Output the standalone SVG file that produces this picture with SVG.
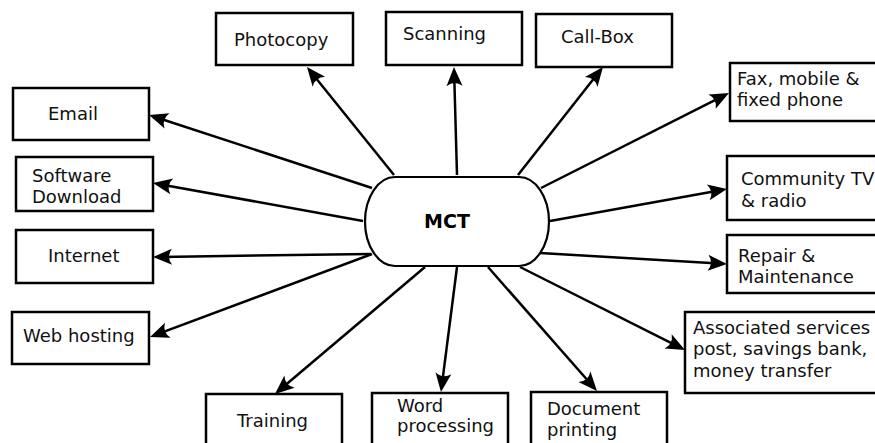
<svg xmlns="http://www.w3.org/2000/svg" width="875" height="443" viewBox="0 0 875 443">
<style>
.box{fill:#fff;stroke:#000;stroke-width:2.5}
.t{font-family:"DejaVu Sans",sans-serif;font-size:18px;fill:#111}
.tb{font-family:"DejaVu Sans",sans-serif;font-size:19px;font-weight:bold;fill:#000}
.c{fill:none;stroke:#000;stroke-width:2.5;marker-end:url(#ah)}
</style>
<defs>
<marker id="ah" markerUnits="userSpaceOnUse" viewBox="-12 -9 22 18" refX="0" refY="0" markerWidth="22" markerHeight="18" orient="auto" overflow="visible">
<path d="M8,0 L-11,-8 Q-5,0 -11,8 Z" fill="#000"/>
</marker>
</defs>
<rect width="875" height="443" fill="#fff"/>
<g id="connectors">
<line class="c" x1="372" y1="188" x2="156.6" y2="117.5"/>
<line class="c" x1="363" y1="221" x2="160.9" y2="184.4"/>
<line class="c" x1="371" y1="254" x2="161" y2="256.9"/>
<line class="c" x1="372" y1="254" x2="157.5" y2="334.2"/>
<line class="c" x1="425" y1="267" x2="281.1" y2="388.8"/>
<line class="c" x1="457" y1="267" x2="442" y2="384.1"/>
<line class="c" x1="488" y1="267" x2="591.7" y2="385"/>
<line class="c" x1="520" y1="267" x2="677.9" y2="346.4"/>
<line class="c" x1="540" y1="253" x2="719" y2="263.5"/>
<line class="c" x1="550" y1="221" x2="719.1" y2="190.4"/>
<line class="c" x1="541" y1="188" x2="721.9" y2="96.6"/>
<line class="c" x1="518" y1="175" x2="598" y2="73.3"/>
<line class="c" x1="457" y1="175" x2="454.2" y2="75"/>
<line class="c" x1="394" y1="175" x2="312" y2="73.2"/>
</g>
<g id="mct">
<rect x="365" y="177" width="184" height="89" rx="30" ry="44.5" fill="#fff" stroke="#000" stroke-width="2.2"/>
<text class="tb" x="447" y="227.5" text-anchor="middle">MCT</text>
</g>
<g id="photocopy"><rect class="box" x="216" y="13" width="137" height="52"/><text class="t" x="234" y="46">Photocopy</text></g>
<g id="scanning"><rect class="box" x="386" y="12" width="136" height="53"/><text class="t" x="403" y="40">Scanning</text></g>
<g id="callbox"><rect class="box" x="536" y="14" width="136" height="53"/><text class="t" x="561" y="43">Call-Box</text></g>
<g id="fax"><rect class="box" x="730" y="63" width="150" height="58"/><text class="t" x="737" y="85">Fax, mobile &amp;</text><text class="t" x="737" y="106">fixed phone</text></g>
<g id="email"><rect class="box" x="13" y="88" width="136" height="52"/><text class="t" x="48" y="120">Email</text></g>
<g id="software"><rect class="box" x="16" y="157" width="137" height="54"/><text class="t" x="32" y="182">Software</text><text class="t" x="32" y="203">Download</text></g>
<g id="internet"><rect class="box" x="16" y="230" width="137" height="53"/><text class="t" x="48" y="262">Internet</text></g>
<g id="webhosting"><rect class="box" x="12" y="312" width="137" height="52"/><text class="t" x="23" y="342">Web hosting</text></g>
<g id="training"><rect class="box" x="206" y="394" width="136" height="60"/><text class="t" x="237" y="427">Training</text></g>
<g id="wordprocessing"><rect class="box" x="372" y="393" width="136" height="60"/><text class="t" x="397" y="412">Word</text><text class="t" x="397" y="432">processing</text></g>
<g id="documentprinting"><rect class="box" x="531" y="392" width="136" height="60"/><text class="t" x="547" y="415">Document</text><text class="t" x="547" y="436">printing</text></g>
<g id="associated"><rect class="box" x="685" y="312" width="200" height="81"/><text class="t" x="693" y="334">Associated services</text><text class="t" x="693" y="355">post, savings bank,</text><text class="t" x="693" y="377">money transfer</text></g>
<g id="community"><rect class="box" x="727" y="156" width="160" height="64"/><text class="t" x="741" y="185">Community TV</text><text class="t" x="741" y="207">&amp; radio</text></g>
<g id="repair"><rect class="box" x="727" y="235" width="160" height="58"/><text class="t" x="738" y="262">Repair &amp;</text><text class="t" x="738" y="283">Maintenance</text></g>
</svg>
